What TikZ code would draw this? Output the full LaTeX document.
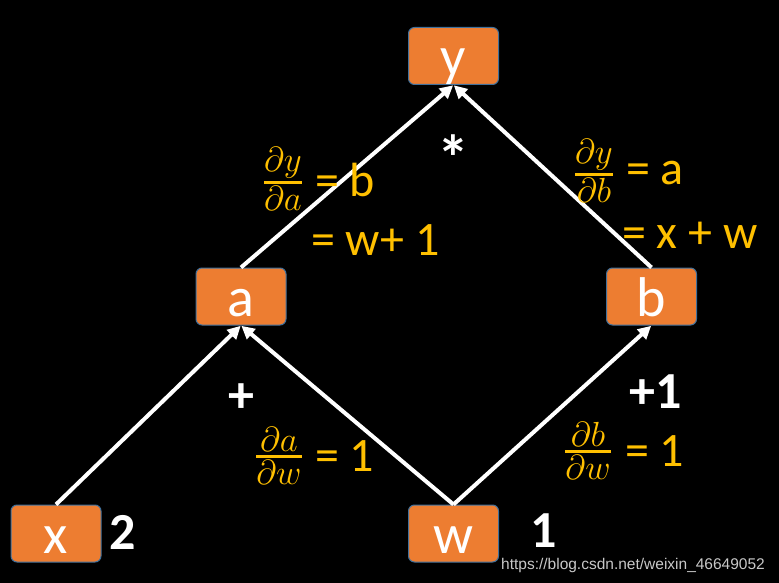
\documentclass[tikz,border=0pt]{standalone}
\usepackage{amsmath}
\usepackage{graphicx}
\usepackage{fontspec}
\setmainfont{Carlito}
\newfontfamily\wmfont{Liberation Sans}
\usetikzlibrary{arrows.meta}
\definecolor{nodeor}{HTML}{ED7D31}
\definecolor{nodebd}{HTML}{41719C}
\definecolor{lbl}{HTML}{FFC000}
\tikzset{
  opnode/.style={draw=nodebd, line width=1pt, fill=nodeor, rounded corners=6pt,
    minimum width=90pt, minimum height=57pt, inner sep=0pt, text=white,
    text height=40pt, text depth=0pt,
    font=\fontsize{56}{60}\selectfont},
  edge/.style={draw=white, line width=4pt, -{Triangle[length=13pt,width=13pt]}, shorten >=0.5pt},
  deriv/.style={text=lbl, inner sep=0pt, anchor=center},
  eqtxt/.style={text=lbl, inner sep=0pt, font=\fontsize{48}{52}\selectfont},
  wlabel/.style={text=white, inner sep=0pt, font=\bfseries\fontsize{52}{56}\selectfont},
}
\newcommand{\dfr}[2]{\scalebox{1.4}{\fontsize{24.88}{30}\selectfont$\genfrac{}{}{1.8pt}{1}{\textstyle #1}{\textstyle #2}$}}
\begin{document}
\begin{tikzpicture}[x=1pt,y=-1pt]
\fill[black] (0,0) rectangle (779,583);
\useasboundingbox (0,0) rectangle (779,583);

\node[opnode] (y) at (453.5,56) {y};
\node[opnode] (a) at (241,296.5) {a};
\node[opnode] (b) at (651.5,296.5) {b};
\node[opnode] (x) at (56,533.5) {x};
\node[opnode] (w) at (453.5,533.5) {w};

\draw[edge] (x.north) -- (a.south);
\draw[edge] (w.north) -- (a.south);
\draw[edge] (w.north) -- (b.south);
\draw[edge] (a.north) -- (y.south);
\draw[edge] (b.north) -- (y.south);

% derivative labels
\node[deriv] (f1) at (283,179) {\dfr{\partial y}{\partial a}};
\node[eqtxt, anchor=west] (e1) at (315,180) {= b};
\node[eqtxt, anchor=west] (e1b) at (311,240) {= w+ 1};
\node[text=white, inner sep=0pt, font=\bfseries\fontsize{64}{66}\selectfont] (star) at (453,158) {*};

\node[deriv] (f2) at (594,171) {\dfr{\partial y}{\partial b}};
\node[eqtxt, anchor=west] (e2) at (626,173) {= a};
\node[eqtxt, anchor=west] (e2b) at (622,235) {= x + w};

\node[wlabel] (plus) at (241,398) {+};
\node[deriv] (f3) at (279,456) {\dfr{\partial a}{\partial w}};
\node[eqtxt, anchor=west] (e3) at (315,456) {= 1};

\node[wlabel] (plusone) at (656,392) {+1};
\node[deriv] (f4) at (588,451) {\dfr{\partial b}{\partial w}};
\node[eqtxt, anchor=west] (e4) at (625,451) {= 1};

\node[wlabel] (two) at (123,532) {2};
\node[wlabel, text depth=0pt] (one) at (544,531) {1};

\node[text={rgb,255:red,200;green,200;blue,200}, inner sep=0pt, font=\wmfont\fontsize{15.5}{17}\selectfont] (wm) at (633,565) {https://blog.csdn.net/weixin\_46649052};
\end{tikzpicture}
\end{document}
